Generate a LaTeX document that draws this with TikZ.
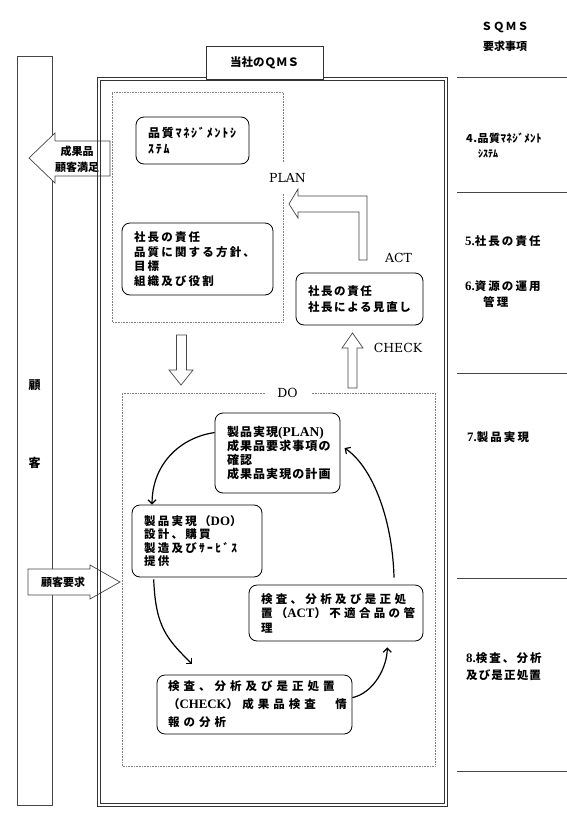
\documentclass[tikz,border=0pt]{standalone}
\usepackage{fontspec}
\setmainfont{Liberation Serif}
\newfontfamily\jp{Noto Sans CJK JP}
\newfontfamily\lat{DejaVu Serif}
\newfontfamily\latn{Liberation Serif}[Scale=1.12]
\usetikzlibrary{arrows.meta,calc}
\newcommand\jpf[3]{\fontsize{#1}{#2}\jp\bfseries\addfontfeatures{LetterSpace=#3}}
\tikzset{
  rbox/.style={draw=black, line width=0.8pt, rounded corners=8pt, fill=white,
    align=left, inner xsep=12pt, inner ysep=0pt},
  blk/.style={draw=gray!55!black, fill=white, line width=0.7pt},
  dotbox/.style={draw=gray, densely dotted, line width=0.6pt},
  conn/.style={line width=1.2pt, -{Straight Barb[length=4pt,width=8pt]}},
  lbl/.style={font=\lat\fontsize{12.5}{14}\selectfont, inner sep=1pt},
  rtext/.style={anchor=west, inner sep=0pt, font=\jpf{11.5}{14}{18}},
  rule/.style={draw=gray!55!black, line width=0.9pt},
  frame/.style={draw=gray!40!black, line width=0.8pt},
}
\begin{document}
\begin{tikzpicture}[x=1pt,y=-1pt]
\useasboundingbox (0,0) rectangle (567,822);
\fill[white] (0,0) rectangle (567,822);

% customer column
\draw[draw=gray!55!black, line width=0.8pt] (17,56) rectangle (52,805);
\node[inner sep=0pt, font=\jpf{12}{14}{0}] (ko) at (34.5,385) {顧};
\node[inner sep=0pt, font=\jpf{12}{14}{0}] (kyaku) at (34.5,463) {客};

% block arrows over the customer column
\draw[blk] (29,158) -- (55,133) -- (55,141) -- (110,141) -- (110,176) -- (55,176) -- (55,183) -- cycle;
\node[inner sep=0pt, font=\jpf{11}{14}{0}] (seika) at (77,151) {成果品};
\node[inner sep=0pt, font=\jpf{11}{14}{0}] (manzoku) at (77,167) {顧客満足};
\draw[blk] (28,569) -- (90,569) -- (90,565) -- (120,582) -- (90,599) -- (90,595) -- (28,595) -- cycle;
\node[inner sep=0pt, font=\jpf{11}{14}{0}] (yokyu) at (63,582) {顧客要求};

% outer double frame
\draw[frame] (97,77) rectangle (447,806);
\draw[frame] (100,80) rectangle (444,803);
\node[draw=gray!40!black, line width=0.8pt, fill=white, minimum width=117pt, minimum height=33pt, inner sep=0pt,
  font=\jpf{11.5}{14}{0}] (title) at (264.5,62.5) {当社のＱＭＳ};

% right column
\node[inner sep=0pt, font=\jpf{11}{14}{10}] (sqms) at (505,27) {ＳＱＭＳ};
\node[inner sep=0pt, font=\jpf{11}{14}{0}] (yokyuj) at (505,46) {要求事項};
\draw[rule] (457,77) coordinate (r0) -- (567,77);
\draw[rule] (457,192) coordinate (r1) -- (567,192);
\draw[rule] (457,373) coordinate (r2) -- (567,373);
\draw[rule] (457,578) coordinate (r3) -- (567,578);
\draw[rule] (457,771) coordinate (r4) -- (567,771);
\node[rtext, font=\jpf{11}{14}{4}] (s4a) at (466,138) {4.品質ﾏﾈｼﾞﾒﾝﾄ};
\node[rtext, font=\jpf{10}{14}{0}] (s4b) at (478,154) {ｼｽﾃﾑ};
\node[rtext] (s5) at (465,241) {{\latn\bfseries 5.}社長の責任};
\node[rtext] (s6a) at (465,286) {{\latn\bfseries 6.}資源の運用};
\node[rtext] (s6b) at (483,302) {管理};
\node[rtext] (s7) at (467,437) {{\latn\bfseries 7.}製品実現};
\node[rtext] (s8a) at (466,658) {{\latn\bfseries 8.}検査、分析};
\node[rtext, font=\jpf{11.5}{14}{10}] (s8b) at (466,675) {及び是正処置};

% PLAN dotted box
\draw[dotbox] (283,162) -- (283,92) -- (112,92) -- (112,322) -- (283,322) -- (283,193);
\node[lbl] (plan) at (287.5,178) {PLAN};
% DO dotted box
\draw[dotbox] (265,393) -- (122,393) -- (122,766) -- (435,766) -- (435,393) -- (312,393);
\node[lbl] (do) at (287.5,393) {DO};

% PLAN-area boxes
\node[rbox, minimum width=113pt, minimum height=47pt, text width=89pt, font=\jpf{12}{16}{15}] (b1) at (192.5,140.5)
  {品質ﾏﾈｼﾞﾒﾝﾄｼ\\ｽﾃﾑ};
\node[rbox, minimum width=151pt, minimum height=72pt, text width=127pt, font=\jpf{11.5}{14.5}{19}] (b2) at (197.5,259)
  {社長の責任\\品質に関する方針、\\目標\\組織及び役割};
\node[rbox, minimum width=127pt, minimum height=52pt, text width=103pt, font=\jpf{11.5}{16}{14}] (b3) at (359.5,299)
  {社長の責任\\社長による見直し};
\node[lbl] (act) at (398.5,258) {ACT};
\node[lbl] (check) at (398,348) {CHECK};

% ACT bent arrow
\draw[blk] (289,204) -- (298,189) -- (298,196) -- (367,196) -- (367,260) -- (359,260) -- (359,212) -- (298,212) -- (298,218) -- cycle;
% PLAN -> DO arrow
\draw[blk] (176.5,335) -- (186.5,335) -- (186.5,370) -- (193,370) -- (181,385) -- (169,370) -- (176.5,370) -- cycle;
% CHECK up arrow
\draw[blk] (348,388) -- (357,388) -- (357,348) -- (363,348) -- (352.5,333) -- (342,348) -- (348,348) -- cycle;

% DO-area boxes
\node[rbox, minimum width=125pt, minimum height=80pt, text width=101pt, font=\jpf{12}{14}{9}] (b4) at (277.5,453)
  {製品実現{\latn\bfseries (PLAN)}\\成果品要求事項の\\確認\\成果品実現の計画};
\node[rbox, minimum width=130pt, minimum height=72pt, text width=106pt, font=\jpf{11.5}{13.5}{20}] (b5) at (197,541)
  {製品実現（{\latn\bfseries DO}）\\設計、購買\\製造及びｻｰﾋﾞｽ\\提供};
\node[rbox, minimum width=174pt, minimum height=56pt, text width=150pt, font=\jpf{11.5}{14.5}{29}] (b6) at (336,613)
  {検査、分析及び是正処\\置（{\latn\bfseries ACT}）不適合品の管\\理};
\node[rbox, minimum width=195pt, minimum height=59pt, text width=173pt, inner xsep=11pt, font=\jpf{11.5}{18}{35}] (b7) at (254.5,704.5)
  {検査、分析及び是正処置\\（{\latn\bfseries CHECK}）成果品検査　情\\報の分析};

% cycle connectors
\coordinate (c2end) at (192,664);
\draw[conn] (b4.162) .. controls +(-35,5) and +(0,-40) .. (b5.141);
\draw[conn, shorten <=2pt] (b5.220) .. controls +(2,50) and +(-25,-25) .. (c2end);
\draw[conn, shorten >=6pt] (b7.4) .. controls +(22,-5) and +(0,25) .. (b6.331);
\draw[conn, shorten <=7pt, shorten >=5pt] (b6.26) .. controls +(-2,-70) and +(30,20) .. (b4.7);
\end{tikzpicture}
\end{document}
